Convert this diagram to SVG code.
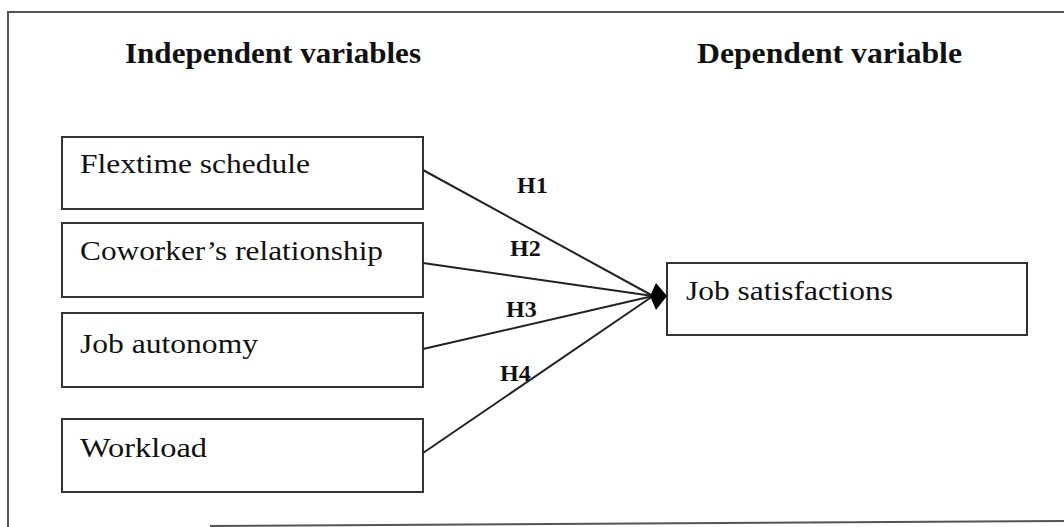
<svg xmlns="http://www.w3.org/2000/svg" width="1064" height="527" viewBox="0 0 1064 527">
<style>
.frame{fill:none;stroke:#555;stroke-width:2}
.box{fill:#fff;stroke:#333;stroke-width:2}
.lbl{font-family:"Liberation Serif",serif;font-size:28px;fill:#111}
.hdr{font-family:"Liberation Serif",serif;font-size:30px;font-weight:bold;fill:#111}
.h{font-family:"Liberation Serif",serif;font-size:24px;font-weight:bold;fill:#111}
.con{stroke:#222;stroke-width:2;fill:none}
</style>
<rect width="1064" height="527" fill="#fff"/>
<g id="frame">
<path class="frame" d="M8,527 L8,12 L1064,12"/>
<path class="frame" d="M210,526 L1064,521"/>
</g>
<g id="headers">
<text class="hdr" x="125" y="63" textLength="296" lengthAdjust="spacingAndGlyphs">Independent variables</text>
<text class="hdr" x="697" y="63" textLength="265" lengthAdjust="spacingAndGlyphs">Dependent variable</text>
</g>
<g id="n1"><rect class="box" x="62" y="137" width="361" height="72"/><text class="lbl" x="80" y="173" textLength="230" lengthAdjust="spacingAndGlyphs">Flextime schedule</text></g>
<g id="n2"><rect class="box" x="62" y="223" width="361" height="74"/><text class="lbl" x="80" y="260" textLength="303" lengthAdjust="spacingAndGlyphs">Coworker’s relationship</text></g>
<g id="n3"><rect class="box" x="62" y="313" width="361" height="74"/><text class="lbl" x="80" y="353" textLength="178" lengthAdjust="spacingAndGlyphs">Job autonomy</text></g>
<g id="n4"><rect class="box" x="62" y="419" width="361" height="73"/><text class="lbl" x="80" y="457" textLength="127" lengthAdjust="spacingAndGlyphs">Workload</text></g>
<g id="n5"><rect class="box" x="667" y="263" width="360" height="72"/><text class="lbl" x="686" y="300" textLength="207" lengthAdjust="spacingAndGlyphs">Job satisfactions</text></g>
<g id="connectors">
<line class="con" x1="423" y1="170" x2="653" y2="296"/>
<line class="con" x1="423" y1="263" x2="653" y2="296"/>
<line class="con" x1="423" y1="349" x2="653" y2="296"/>
<line class="con" x1="423" y1="453" x2="653" y2="296"/>
<path d="M650,296 L656,283 L667,296 L656,310 Z" fill="#000"/>
</g>
<g id="labels">
<text class="h" x="517" y="193">H1</text>
<text class="h" x="510" y="256">H2</text>
<text class="h" x="506" y="317">H3</text>
<text class="h" x="500" y="381">H4</text>
</g>
</svg>
